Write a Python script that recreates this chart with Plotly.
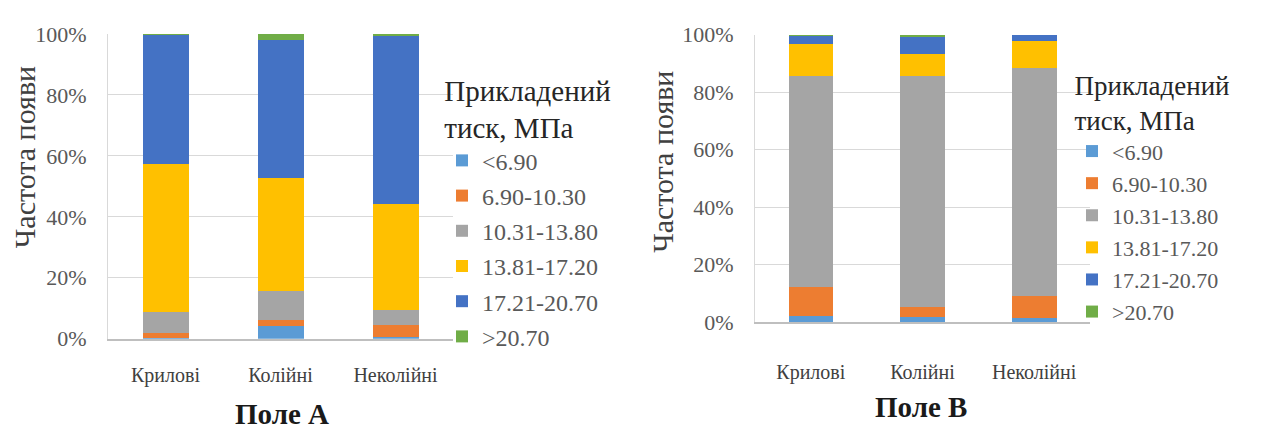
import plotly.graph_objects as go

# Share of occurrences (%) by applied pressure class, per well type
categories = ["Крилові", "Колійні", "Неколійні"]
pressure_classes = ["<6.90", "6.90-10.30", "10.31-13.80", "13.81-17.20", "17.21-20.70", ">20.70"]
colors = ["#5B9BD5", "#ED7D31", "#A5A5A5", "#FFC000", "#4472C4", "#70AD47"]

field_a = {
    "<6.90":       [0.3, 4.1, 0.5],
    "6.90-10.30":  [1.5, 1.9, 4.0],
    "10.31-13.80": [7.0, 9.5, 4.8],
    "13.81-17.20": [48.4, 37.3, 34.8],
    "17.21-20.70": [42.5, 45.1, 55.4],
    ">20.70":      [0.3, 2.1, 0.5],
}
field_b = {
    "<6.90":       [2.2, 1.7, 1.6],
    "6.90-10.30":  [10.1, 3.5, 7.4],
    "10.31-13.80": [73.4, 80.5, 79.4],
    "13.81-17.20": [11.2, 7.6, 9.4],
    "17.21-20.70": [3.0, 6.0, 2.2],
    ">20.70":      [0.1, 0.7, 0.0],
}
y_ticks = [0, 20, 40, 60, 80, 100]
y_tick_labels = [f"{v}%" for v in y_ticks]

SERIF = "Liberation Serif"
W, H = 1262, 434

fig = go.Figure()
for i, cls in enumerate(pressure_classes):
    fig.add_trace(go.Bar(
        x=categories, y=field_a[cls], name=cls, marker_color=colors[i],
        marker_line_width=0, xaxis="x", yaxis="y", legend="legend",
        legendgroup=f"a{i}",
    ))
for i, cls in enumerate(pressure_classes):
    fig.add_trace(go.Bar(
        x=categories, y=field_b[cls], name=cls, marker_color=colors[i],
        marker_line_width=0, xaxis="x2", yaxis="y2", legend="legend2",
        legendgroup=f"b{i}",
    ))

def px_x(p):
    return p / W

def px_y(p):
    return 1 - p / H

xa = dict(type="category", showline=True, linecolor="#bfbfbf", linewidth=1.5,
          ticks="", showgrid=False, tickfont=dict(family=SERIF, size=20, color="#404040"),
          fixedrange=True)
ya = dict(range=[0, 100], tickmode="array", tickvals=y_ticks, ticktext=y_tick_labels,
          showgrid=True, gridcolor="#d9d9d9", gridwidth=1.2, showline=True,
          linecolor="#d9d9d9", zeroline=False, ticks="",
          tickfont=dict(family=SERIF, size=22, color="#595959"),
          ticklabelstandoff=16, fixedrange=True)

legend_common = dict(
    traceorder="grouped", bgcolor="rgba(0,0,0,0)",
    xanchor="left", yanchor="top", itemclick=False, itemdoubleclick=False,
)

fig.update_layout(
    width=W, height=H, margin=dict(l=0, r=0, t=0, b=0),
    paper_bgcolor="white", plot_bgcolor="white",
    barmode="stack", bargap=0.6, showlegend=True,
    xaxis=dict(xa, domain=[px_x(108), px_x(453)], anchor="y", ticklabelstandoff=18),
    yaxis=dict(ya, domain=[px_y(346.7), px_y(23.3)], anchor="x"),
    xaxis2=dict(xa, domain=[px_x(755), px_x(1090)], anchor="y2", ticklabelstandoff=31),
    yaxis2=dict(ya, domain=[px_y(329.3), px_y(24)], anchor="x2"),
    legend=dict(legend_common, x=px_x(442), y=px_y(54), tracegroupgap=1.0,
                font=dict(family=SERIF, size=24, color="#595959"),
                title=dict(text="Прикладений<br>тиск, МПа", side="top center",
                           font=dict(family=SERIF, size=29, color="#262626"))),
    legend2=dict(legend_common, x=px_x(1072), y=px_y(51), tracegroupgap=0.5,
                 font=dict(family=SERIF, size=22, color="#595959"),
                 title=dict(text="Прикладений<br>тиск, МПа", side="top center",
                            font=dict(family=SERIF, size=27, color="#262626"))),
    annotations=[
        dict(text="Частота появи", textangle=-90, x=px_x(24), y=px_y(154),
             xref="paper", yref="paper", xanchor="center", yanchor="middle",
             showarrow=False, font=dict(family=SERIF, size=30, color="#404040")),
        dict(text="Частота появи", textangle=-90, x=px_x(663), y=px_y(159),
             xref="paper", yref="paper", xanchor="center", yanchor="middle",
             showarrow=False, font=dict(family=SERIF, size=30, color="#404040")),
        dict(text="<b>Поле А</b>", x=px_x(282), y=px_y(427),
             xref="paper", yref="paper", xanchor="center", yanchor="middle",
             showarrow=False, font=dict(family=SERIF, size=29, color="#1a1a1a")),
        dict(text="<b>Поле В</b>", x=px_x(921), y=px_y(419),
             xref="paper", yref="paper", xanchor="center", yanchor="middle",
             showarrow=False, font=dict(family=SERIF, size=29, color="#1a1a1a")),
    ],
)

fig.write_html("out.html")
